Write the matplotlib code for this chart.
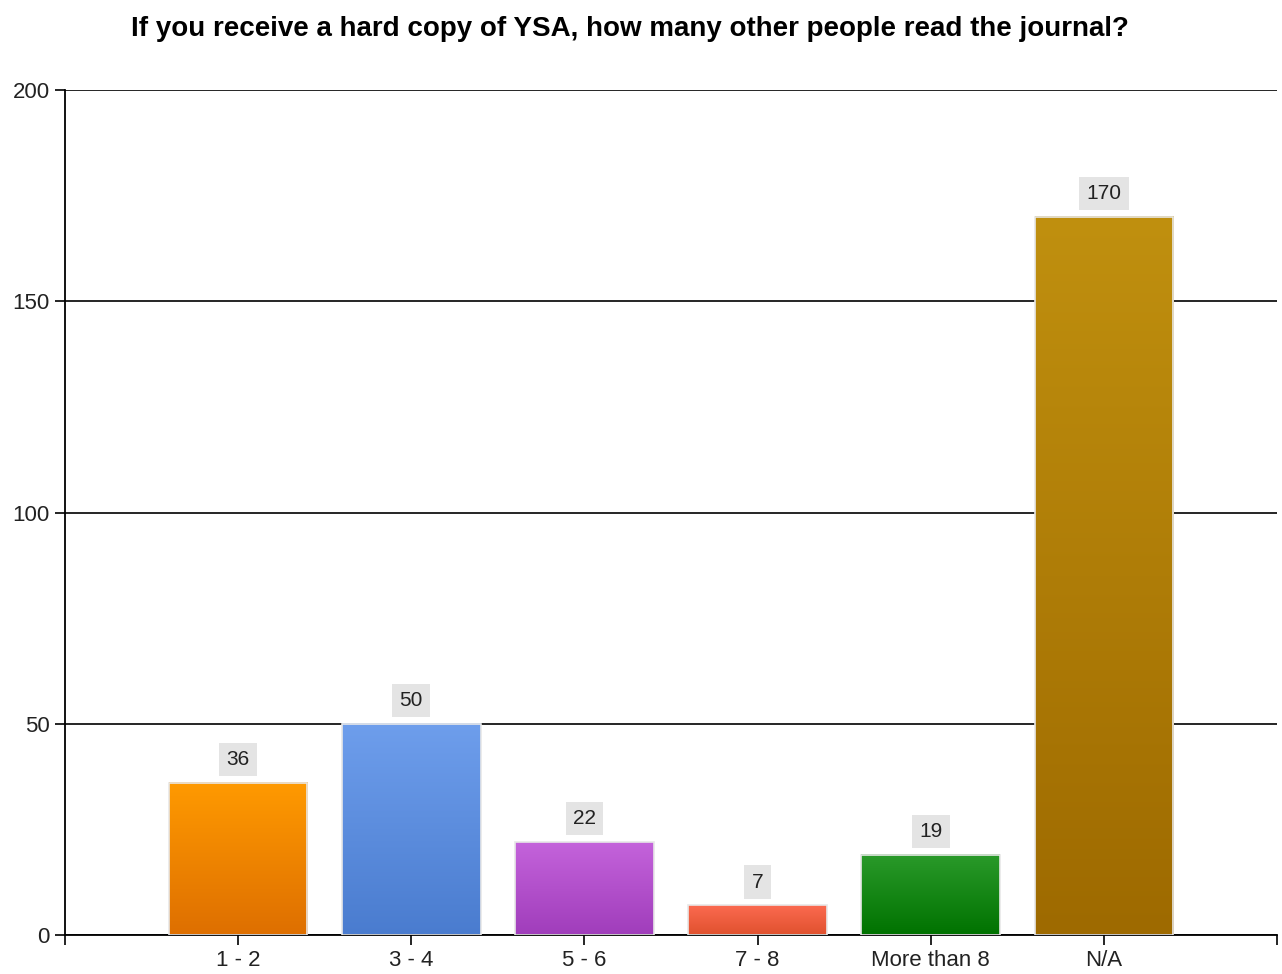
import numpy as np
import matplotlib.pyplot as plt
from matplotlib.colors import LinearSegmentedColormap

plt.rcParams['font.family'] = ['Liberation Sans', 'DejaVu Sans']

categories = ['1 - 2', '3 - 4', '5 - 6', '7 - 8', 'More than 8', 'N/A']
counts = [36, 50, 22, 7, 19, 170]
# gradient colours per bar: (top, bottom)
bar_colors = [('#ff9a00', '#de6f00'),
              ('#6e9eec', '#4a7ccf'),
              ('#c463db', '#a03dbb'),
              ('#fb6a50', '#e0512e'),
              ('#2a9a2a', '#007200'),
              ('#c0900f', '#9e6a00')]

fig = plt.figure(figsize=(12.82, 9.74), dpi=100)
ax = fig.add_axes([0.0507, 0.04, 0.9454, 0.8676])

x = np.arange(len(categories))
bars = ax.bar(x, counts, width=0.8, color='none', edgecolor='#e8e8e8',
              linewidth=1.2, zorder=3)

# fill each bar with a vertical gradient
grad = np.linspace(0, 1, 256).reshape(-1, 1)
for b, (top, bottom) in zip(bars, bar_colors):
    cmap = LinearSegmentedColormap.from_list('g', [bottom, top])
    x0, w, h = b.get_x(), b.get_width(), b.get_height()
    ax.imshow(grad, cmap=cmap, origin='lower', aspect='auto',
              extent=(x0, x0 + w, 0, h), zorder=2)

for b, v in zip(bars, counts):
    ax.annotate(str(v), (b.get_x() + b.get_width() / 2, v),
                xytext=(0, 10), textcoords='offset points',
                ha='center', va='bottom', fontsize=15, color='#222222',
                bbox=dict(boxstyle='square,pad=0.35', fc='#e4e4e4', ec='none'))

ax.set_xlim(-1, 6)
ax.set_ylim(0, 200)
ax.set_yticks([0, 50, 100, 150, 200])
ax.set_xticks(x)
ax.set_xticklabels(categories)
ax.set_xticks([-1, 6], minor=True)
ax.tick_params(axis='both', labelsize=16, colors='black', labelcolor='#222222',
               length=7, width=1.2, pad=4)
ax.tick_params(axis='x', which='minor', length=7, width=1.2)
ax.grid(axis='y', color='black', linewidth=1.2, zorder=1)
ax.set_axisbelow(True)
for s in ['top', 'right']:
    ax.spines[s].set_visible(False)
for s in ['left', 'bottom']:
    ax.spines[s].set_linewidth(1.3)

fig.suptitle('If you receive a hard copy of YSA, how many other people read the journal?',
             x=0.491, y=0.984, fontsize=20, fontweight='bold', va='top')

fig.savefig('out.png', dpi=100)
